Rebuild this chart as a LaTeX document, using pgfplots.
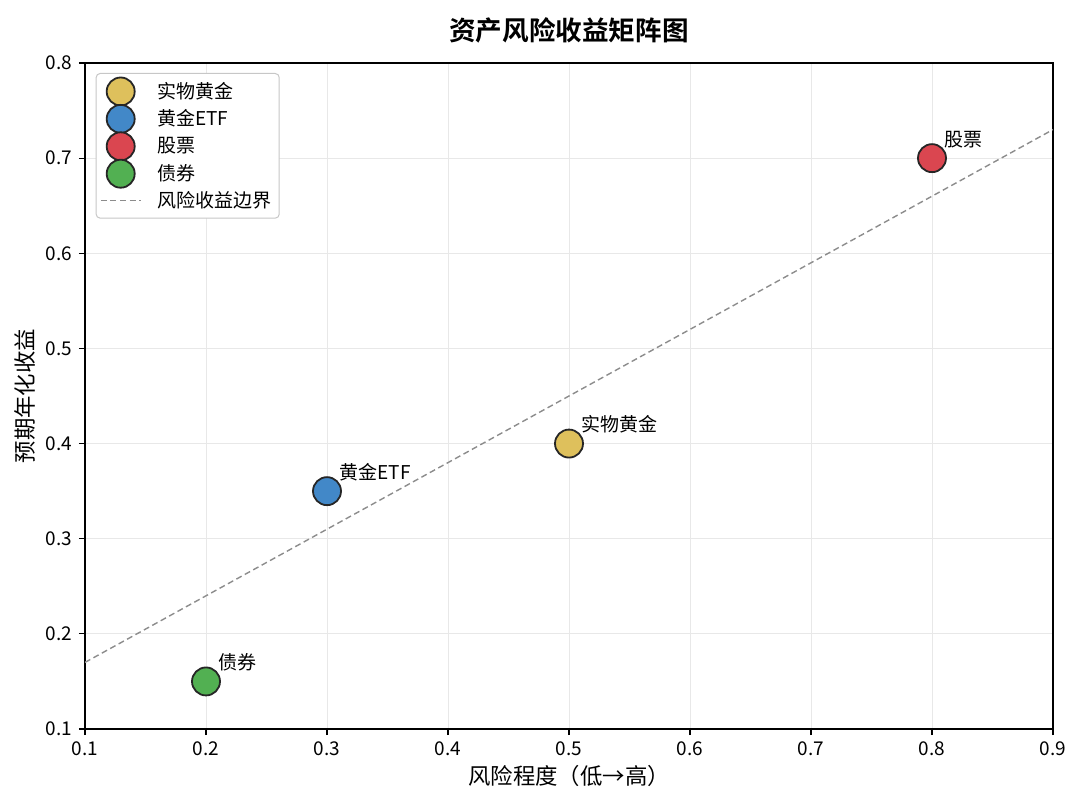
\documentclass[border=0pt]{standalone}
\usepackage{pgfplots}
\pgfplotsset{compat=1.18}
\usepackage{fontspec}
\setmainfont{Noto Sans CJK SC}
\setsansfont{Noto Sans CJK SC}
\newfontfamily\titlefont{Noto Sans CJK SC Bold}

\definecolor{cgold}{RGB}{222,192,92}
\definecolor{cblue}{RGB}{66,136,200}
\definecolor{cred}{RGB}{218,70,80}
\definecolor{cgreen}{RGB}{82,176,82}
\definecolor{gridgray}{RGB}{232,232,232}
\definecolor{frontier}{RGB}{140,140,140}

\begin{document}
\begin{tikzpicture}
\begin{axis}[
  scale only axis,
  width=484bp, height=333bp,
  xmin=0.1, xmax=0.9, ymin=0.1, ymax=0.8,
  xtick={0.1,0.2,...,0.9}, ytick={0.1,0.2,...,0.8},
  xticklabel style={/pgf/number format/fixed, /pgf/number format/precision=1},
  yticklabel style={/pgf/number format/fixed, /pgf/number format/precision=1},
  /pgf/number format/assume math mode=true,
  tick label style={font=\fontsize{9.5bp}{11bp}\selectfont, black},
  tick align=outside,
  xtick pos=bottom, ytick pos=left,
  major tick length=3bp,
  tick style={black, line width=0.6bp},
  axis line style={black, line width=0.7bp},
  grid=major,
  major grid style={gridgray, line width=0.5bp},
  title={\titlefont\fontsize{13.3bp}{15bp}\selectfont 资产风险收益矩阵图},
  title style={yshift=0.5bp},
  xlabel={风险程度（低→高）},
  ylabel={预期年化收益},
  label style={font=\fontsize{11.2bp}{13bp}\selectfont},
  xlabel style={yshift=2bp},
  ylabel style={yshift=-1.5bp},
  legend style={at={(0.011,0.985)}, anchor=north west,
    draw=black!22, rounded corners=2bp, line width=0.5bp,
    font=\fontsize{9.5bp}{11bp}\selectfont, row sep=-0.3bp,
    inner xsep=2bp, inner ysep=2bp,
    /tikz/every odd column/.append style={column sep=6bp}},
  legend image code/.code={\draw[mark repeat=2,mark phase=2]
    plot coordinates {(0cm,0cm) (0.35cm,0cm) (0.7cm,0cm)};},
  legend cell align=left,
  nodes near coords,
  point meta=explicit symbolic,
  every node near coord/.style={anchor=south west, xshift=2.5bp, yshift=1.5bp,
    font=\fontsize{9.5bp}{11bp}\selectfont, black},
]
\addplot[only marks, mark=*, mark size=7bp,
  mark options={fill=cgold, draw=black!85, line width=0.9bp}]
  coordinates {(0.5,0.40) [实物黄金]};
\addlegendentry{实物黄金}
\addplot[only marks, mark=*, mark size=7bp,
  mark options={fill=cblue, draw=black!85, line width=0.9bp}]
  coordinates {(0.3,0.35) [黄金ETF]};
\addlegendentry{黄金ETF}
\addplot[only marks, mark=*, mark size=7bp,
  mark options={fill=cred, draw=black!85, line width=0.9bp}]
  coordinates {(0.8,0.70) [股票]};
\addlegendentry{股票}
\addplot[only marks, mark=*, mark size=7bp,
  mark options={fill=cgreen, draw=black!85, line width=0.9bp}]
  coordinates {(0.2,0.15) [债券]};
\addlegendentry{债券}
% risk-return frontier y = 0.7x + 0.1
\addplot[frontier, dashed, line width=0.7bp, dash pattern=on 3bp off 1.8bp,
  nodes near coords={}]
  coordinates {(0.1,0.17) (0.9,0.73)};
\addlegendentry{风险收益边界}
\path (rel axis cs:0,0) coordinate (ll) (rel axis cs:1,1) coordinate (ur);
\end{axis}
\pgfresetboundingbox
\path ([shift={(-42.5bp,-39.5bp)}]ll) rectangle ([shift={(13.5bp,31.5bp)}]ur);
\end{tikzpicture}
\end{document}
